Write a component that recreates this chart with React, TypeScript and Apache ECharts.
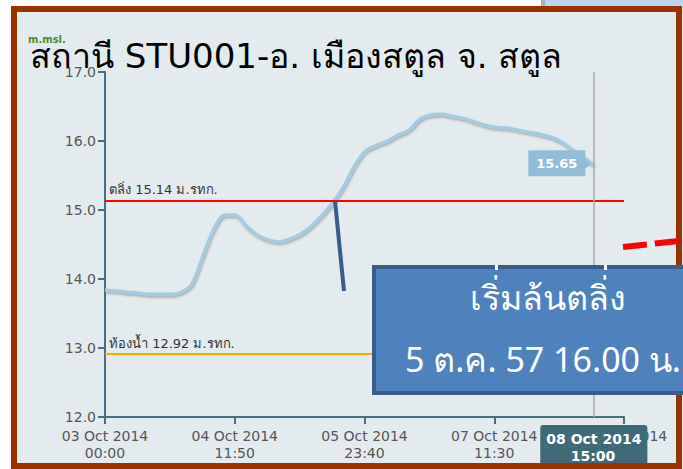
import React, { useEffect, useRef } from 'react';
import * as echarts from 'echarts';

// hours since 03 Oct 2014 00:00
const hours = [0, 3, 6, 9, 12, 15, 18, 21, 24, 27, 30, 33, 36, 39, 42, 45, 48, 51, 54, 57, 60, 63, 66, 69, 72, 75, 78, 81, 84, 87, 90, 93, 96, 99, 102, 105, 108, 111, 114, 117, 120, 123, 126, 129, 132, 135];
const levels = [13.84, 13.83, 13.81, 13.80, 13.78, 13.78, 13.78, 13.81, 13.93, 14.33, 14.72, 14.93, 14.93, 14.77, 14.64, 14.57, 14.54, 14.58, 14.65, 14.77, 14.93, 15.12, 15.35, 15.65, 15.86, 15.94, 16.00, 16.09, 16.16, 16.32, 16.38, 16.39, 16.36, 16.33, 16.28, 16.23, 16.20, 16.19, 16.16, 16.13, 16.10, 16.06, 15.99, 15.88, 15.77, 15.65];
const bankLevel = 15.14;
const bedLevel = 12.92;
const bankLabel = 'ตลิ่ง 15.14 ม.รทก.';
const bedLabel = 'ท้องน้ำ 12.92 ม.รทก.';
const xTickLabels = ['03 Oct 2014\n00:00', '04 Oct 2014\n11:50', '05 Oct 2014\n23:40', '07 Oct 2014\n11:30', '08 Oct 2014\n23:20'];
const yTickLabels = ['12.0', '13.0', '14.0', '15.0', '16.0', '17.0'];
const pointerDate = '08 Oct 2014';
const pointerTime = '15:00';
const lastValueLabel = '15.65';
const titleText = 'สถานี STU001-อ. เมืองสตูล จ. สตูล';
const unitText = 'm.msl.';
const calloutLine1 = 'เริ่มล้นตลิ่ง';
const calloutLine2 = '5 ต.ค. 57 16.00 น.';

const X_INTERVAL = 2150; // minutes
const X_MAX = 8600;

export default function App() {
  const ref = useRef<HTMLDivElement>(null);
  useEffect(() => {
    const chart = echarts.init(ref.current as HTMLDivElement, null, { renderer: 'svg' });
    const lastIdx = hours.length - 1;
    const data = hours.map((h, i) => [h * 60, levels[i]]);
    const lastCoord = [hours[lastIdx] * 60, levels[lastIdx]];
    const axisColor = '#46707f';
    const font = 'DejaVu Sans, sans-serif';
    const nb = '\u00a0';
    chart.setOption({
      animation: false,
      backgroundColor: '#e4ebee',
      grid: { left: 105, right: 59, top: 72, bottom: 52, containLabel: false },
      axisPointer: { triggerOn: 'none' },
      xAxis: {
        type: 'value',
        min: 0,
        max: X_MAX,
        interval: X_INTERVAL,
        splitLine: { show: false },
        axisLine: { lineStyle: { color: axisColor, width: 2 } },
        axisTick: { length: 7, lineStyle: { color: axisColor, width: 2 } },
        axisLabel: {
          color: '#555',
          fontSize: 14,
          fontFamily: font,
          lineHeight: 17,
          margin: 10,
          showMaxLabel: true,
          formatter: (v: number) => xTickLabels[Math.round(v / X_INTERVAL)] ?? '',
        },
        axisPointer: {
          show: true,
          value: lastCoord[0],
          status: 'show',
          snap: false,
          triggerTooltip: false,
          lineStyle: { color: '#a8a8a8', width: 1.5, type: 'solid' },
          label: {
            show: true,
            formatter: () => `${pointerDate}\n${nb.repeat(5)}${pointerTime}`,
            backgroundColor: '#3f6a78',
            color: '#ffffff',
            fontSize: 14,
            fontWeight: 'bold',
            fontFamily: font,
            lineHeight: 17,
            padding: [5, 6],
            margin: 8,
          },
        },
      },
      yAxis: {
        type: 'value',
        min: 12,
        max: 17,
        interval: 1,
        splitLine: { show: false },
        axisLine: { show: true, lineStyle: { color: axisColor, width: 2 } },
        axisTick: { show: true, length: 7, lineStyle: { color: axisColor, width: 2 } },
        axisLabel: {
          color: '#555',
          fontSize: 14,
          fontFamily: font,
          margin: 9,
          formatter: (v: number) => yTickLabels[Math.round(v - 12)] ?? '',
        },
      },
      series: [
        {
          type: 'line',
          data,
          smooth: 0.3,
          showSymbol: false,
          symbol: 'none',
          lineStyle: {
            color: '#a3cbe3',
            width: 3.2,
            shadowColor: 'rgba(80,80,80,0.4)',
            shadowBlur: 2,
            shadowOffsetX: 1,
            shadowOffsetY: 2,
          },
          markLine: {
            silent: true,
            symbol: 'none',
            data: [
              {
                yAxis: bankLevel,
                lineStyle: { color: '#ff0000', width: 2, type: 'solid' },
                label: { show: true, position: 'insideStartTop', formatter: bankLabel, color: '#333', fontSize: 13, fontFamily: font, distance: 4 },
              },
              {
                yAxis: bedLevel,
                lineStyle: { color: '#ffa500', width: 2, type: 'solid' },
                label: { show: true, position: 'insideStartTop', formatter: bedLabel, color: '#333', fontSize: 13, fontFamily: font, distance: 4 },
              },
            ],
          },
          markPoint: {
            silent: true,
            data: [
              {
                coord: lastCoord,
                symbol: 'rect',
                symbolSize: [57, 26],
                symbolOffset: [-37, -2],
                itemStyle: { color: '#93bcd7' },
                label: {
                  show: true,
                  position: 'inside',
                  formatter: lastValueLabel,
                  color: '#ffffff',
                  fontSize: 13,
                  fontWeight: 'bold',
                  fontFamily: font,
                },
              },
              {
                coord: lastCoord,
                symbol: 'triangle',
                symbolSize: [10, 7],
                symbolRotate: -90,
                symbolOffset: [-6, -1],
                itemStyle: { color: '#93bcd7' },
                label: { show: false },
              },
            ],
          },
        },
      ],
      graphic: {
        elements: [
          { type: 'rect', z: 200, shape: { x: 0, y: 0, width: 11, height: 469 }, style: { fill: '#ffffff' } },
          { type: 'rect', z: 200, shape: { x: 0, y: 0, width: 683, height: 6 }, style: { fill: '#ffffff' } },
          { type: 'rect', z: 201, shape: { x: 545, y: 0, width: 138, height: 6 }, style: { fill: '#bcd4ee' } },
          { type: 'rect', z: 201, shape: { x: 541, y: 0, width: 4, height: 6 }, style: { fill: '#b0b0b0' } },
          { type: 'rect', z: 202, shape: { x: 14, y: 9, width: 665, height: 457 }, style: { fill: 'none', stroke: '#993300', lineWidth: 6 } },
          { type: 'text', z: 210, x: 28, y: 39, style: { text: unitText, fill: '#4e8a2e', fontSize: 10, fontWeight: 'bold', fontFamily: font, verticalAlign: 'middle' } },
          { type: 'text', z: 210, x: 30, y: 56, style: { text: titleText, fill: '#000000', fontSize: 34, fontFamily: 'DejaVu Sans, sans-serif', verticalAlign: 'middle' } },
          { type: 'line', z: 210, shape: { x1: 335, y1: 201, x2: 344, y2: 291 }, style: { stroke: '#3a5c8c', lineWidth: 4 } },
          { type: 'line', z: 210, shape: { x1: 623, y1: 247, x2: 679, y2: 241 }, style: { stroke: '#ff0000', lineWidth: 6, lineDash: [24, 8] } },
          { type: 'rect', z: 220, shape: { x: 374, y: 267, width: 340, height: 126 }, style: { fill: '#4f81bd', stroke: '#385d8a', lineWidth: 4 } },
          { type: 'rect', z: 221, shape: { x: 495, y: 265, width: 3, height: 5 }, style: { fill: '#ffffff' } },
          { type: 'rect', z: 221, shape: { x: 604, y: 265, width: 3, height: 5 }, style: { fill: '#ffffff' } },
          { type: 'text', z: 222, x: 548, y: 297, style: { text: calloutLine1, fill: '#ffffff', fontSize: 34, fontFamily: 'Noto Sans, sans-serif', align: 'center', verticalAlign: 'middle' } },
          { type: 'text', z: 222, x: 543, y: 359, style: { text: calloutLine2, fill: '#ffffff', fontSize: 34, fontFamily: 'Noto Sans, sans-serif', align: 'center', verticalAlign: 'middle' } },
        ],
      },
    });
    return () => chart.dispose();
  }, []);
  return <div ref={ref} style={{ position: 'fixed', left: 0, top: 0, width: 683, height: 469 }} />;
}
